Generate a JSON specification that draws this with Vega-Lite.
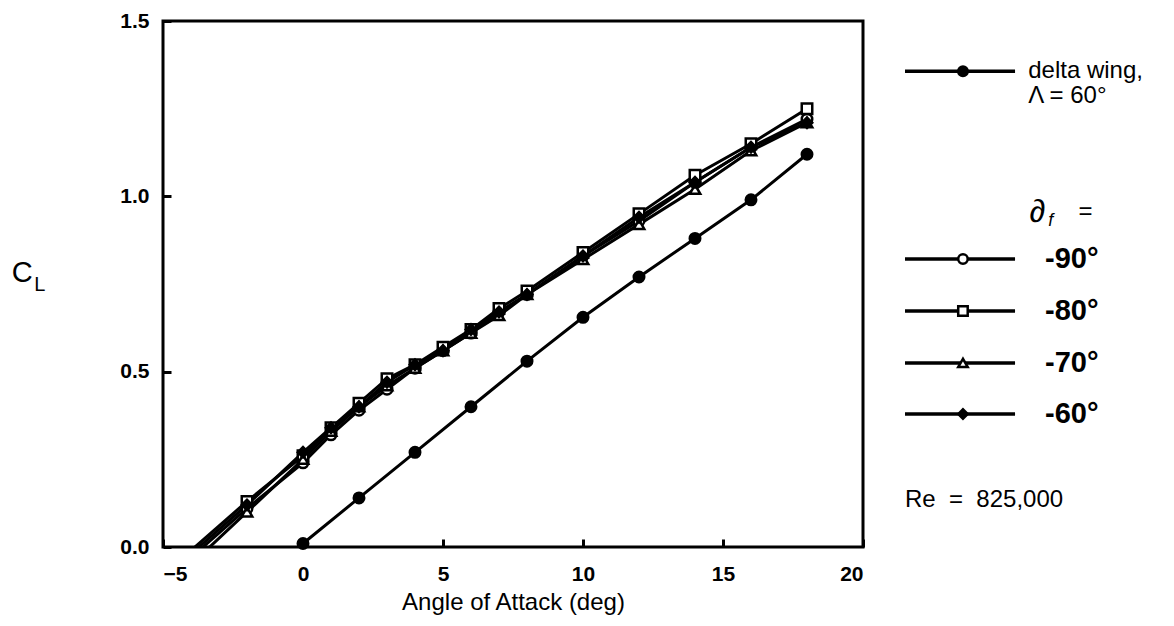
{
  "$schema": "https://vega.github.io/schema/vega-lite/v6.json",
  "autosize": {"type": "none"},
  "padding": {"left": 163, "top": 21, "right": 311, "bottom": 79},
  "width": 700,
  "height": 526,
  "background": "white",
  "config": {
    "view": {"stroke": "black", "strokeWidth": 3},
    "font": "Liberation Sans",
    "axis": {"domain": false, "grid": false, "tickColor": "black", "tickWidth": 3, "labelColor": "black", "titleColor": "black", "labelFont": "Liberation Sans", "titleFont": "Liberation Sans"}
  },
  "datasets": {
    "main": [
      {"series": "-90", "aoa": -4, "cl": -0.03}, {"series": "-90", "aoa": -2, "cl": 0.11}, {"series": "-90", "aoa": 0, "cl": 0.24}, {"series": "-90", "aoa": 1, "cl": 0.32}, {"series": "-90", "aoa": 2, "cl": 0.39}, {"series": "-90", "aoa": 3, "cl": 0.45}, {"series": "-90", "aoa": 4, "cl": 0.51}, {"series": "-90", "aoa": 5, "cl": 0.56}, {"series": "-90", "aoa": 6, "cl": 0.61}, {"series": "-90", "aoa": 7, "cl": 0.67}, {"series": "-90", "aoa": 8, "cl": 0.72}, {"series": "-90", "aoa": 10, "cl": 0.83}, {"series": "-90", "aoa": 12, "cl": 0.93}, {"series": "-90", "aoa": 14, "cl": 1.04}, {"series": "-90", "aoa": 16, "cl": 1.14}, {"series": "-90", "aoa": 18, "cl": 1.22},
      {"series": "-80", "aoa": -4, "cl": -0.01}, {"series": "-80", "aoa": -2, "cl": 0.13}, {"series": "-80", "aoa": 0, "cl": 0.26}, {"series": "-80", "aoa": 1, "cl": 0.34}, {"series": "-80", "aoa": 2, "cl": 0.41}, {"series": "-80", "aoa": 3, "cl": 0.48}, {"series": "-80", "aoa": 4, "cl": 0.52}, {"series": "-80", "aoa": 5, "cl": 0.57}, {"series": "-80", "aoa": 6, "cl": 0.62}, {"series": "-80", "aoa": 7, "cl": 0.68}, {"series": "-80", "aoa": 8, "cl": 0.73}, {"series": "-80", "aoa": 10, "cl": 0.84}, {"series": "-80", "aoa": 12, "cl": 0.95}, {"series": "-80", "aoa": 14, "cl": 1.06}, {"series": "-80", "aoa": 16, "cl": 1.15}, {"series": "-80", "aoa": 18, "cl": 1.25},
      {"series": "-70", "aoa": -4, "cl": -0.05}, {"series": "-70", "aoa": -2, "cl": 0.1}, {"series": "-70", "aoa": 0, "cl": 0.25}, {"series": "-70", "aoa": 1, "cl": 0.33}, {"series": "-70", "aoa": 2, "cl": 0.4}, {"series": "-70", "aoa": 3, "cl": 0.46}, {"series": "-70", "aoa": 4, "cl": 0.51}, {"series": "-70", "aoa": 5, "cl": 0.56}, {"series": "-70", "aoa": 6, "cl": 0.61}, {"series": "-70", "aoa": 7, "cl": 0.66}, {"series": "-70", "aoa": 8, "cl": 0.72}, {"series": "-70", "aoa": 10, "cl": 0.82}, {"series": "-70", "aoa": 12, "cl": 0.92}, {"series": "-70", "aoa": 14, "cl": 1.02}, {"series": "-70", "aoa": 16, "cl": 1.13}, {"series": "-70", "aoa": 18, "cl": 1.21},
      {"series": "-60", "aoa": -4, "cl": -0.02}, {"series": "-60", "aoa": -2, "cl": 0.12}, {"series": "-60", "aoa": 0, "cl": 0.27}, {"series": "-60", "aoa": 1, "cl": 0.34}, {"series": "-60", "aoa": 2, "cl": 0.4}, {"series": "-60", "aoa": 3, "cl": 0.47}, {"series": "-60", "aoa": 4, "cl": 0.52}, {"series": "-60", "aoa": 5, "cl": 0.56}, {"series": "-60", "aoa": 6, "cl": 0.62}, {"series": "-60", "aoa": 7, "cl": 0.67}, {"series": "-60", "aoa": 8, "cl": 0.72}, {"series": "-60", "aoa": 10, "cl": 0.83}, {"series": "-60", "aoa": 12, "cl": 0.94}, {"series": "-60", "aoa": 14, "cl": 1.04}, {"series": "-60", "aoa": 16, "cl": 1.14}, {"series": "-60", "aoa": 18, "cl": 1.21},
      {"series": "delta", "aoa": 0, "cl": 0.01}, {"series": "delta", "aoa": 2, "cl": 0.14}, {"series": "delta", "aoa": 4, "cl": 0.27}, {"series": "delta", "aoa": 6, "cl": 0.4}, {"series": "delta", "aoa": 8, "cl": 0.53}, {"series": "delta", "aoa": 10, "cl": 0.655}, {"series": "delta", "aoa": 12, "cl": 0.77}, {"series": "delta", "aoa": 14, "cl": 0.88}, {"series": "delta", "aoa": 16, "cl": 0.99}, {"series": "delta", "aoa": 18, "cl": 1.12}
    ],
    "legend": [
      {"series": "delta", "x1": 21.5, "x2": 25.43, "xm": 23.57, "y": 1.357},
      {"series": "-90", "x1": 21.5, "x2": 25.43, "xm": 23.57, "y": 0.821, "label": "-90°"},
      {"series": "-80", "x1": 21.5, "x2": 25.43, "xm": 23.57, "y": 0.673, "label": "-80°"},
      {"series": "-70", "x1": 21.5, "x2": 25.43, "xm": 23.57, "y": 0.525, "label": "-70°"},
      {"series": "-60", "x1": 21.5, "x2": 25.43, "xm": 23.57, "y": 0.379, "label": "-60°"}
    ],
    "notes": [
      {"text": "delta wing,", "x": 25.9, "y": 1.357, "size": 24},
      {"text": "Λ = 60°", "x": 25.9, "y": 1.286, "size": 24},
      {"text": "=", "x": 27.7, "y": 0.955, "size": 24},
      {"text": "Re\u00a0\u00a0=\u00a0\u00a0825,000", "x": 21.5, "y": 0.134, "size": 24}
    ]
  },
  "layer": [
    {
      "data": {"name": "main"},
      "mark": {"type": "line", "color": "black", "strokeWidth": 3, "clip": true},
      "encoding": {
        "x": {"field": "aoa", "type": "quantitative", "scale": {"domain": [-5, 20], "nice": false, "zero": false},
          "axis": {"values": [-5, 0, 5, 10, 15, 20], "tickSize": -8, "labelPadding": 24, "labelFontSize": 21, "labelFontWeight": "bold", "title": "Angle of Attack (deg)", "titleFontSize": 24, "titleFontWeight": "normal", "titlePadding": 6}},
        "y": {"field": "cl", "type": "quantitative", "scale": {"domain": [0, 1.5], "nice": false, "zero": false},
          "axis": {"values": [0, 0.5, 1, 1.5], "format": ".1f", "tickSize": -8, "labelPadding": 22, "labelFontSize": 21, "labelFontWeight": "bold", "title": null}},
        "detail": {"field": "series"}
      }
    },
    {
      "data": {"name": "main"},
      "transform": [{"filter": "datum.aoa >= -2"}],
      "mark": {"type": "point", "stroke": "black", "strokeWidth": 2.5, "opacity": 1, "size": 110, "filled": false},
      "encoding": {
        "x": {"field": "aoa", "type": "quantitative"},
        "y": {"field": "cl", "type": "quantitative"},
        "shape": {"field": "series", "type": "nominal", "legend": null, "scale": {"domain": ["-90", "-80", "-70", "-60", "delta"], "range": ["circle", "square", "triangle-up", "diamond", "circle"]}},
        "fill": {"field": "series", "type": "nominal", "legend": null, "scale": {"domain": ["-90", "-80", "-70", "-60", "delta"], "range": ["white", "white", "white", "black", "black"]}}
      }
    },
    {
      "data": {"name": "legend"},
      "mark": {"type": "rule", "color": "black", "strokeWidth": 3.5},
      "encoding": {
        "x": {"field": "x1", "type": "quantitative"},
        "x2": {"field": "x2"},
        "y": {"field": "y", "type": "quantitative"}
      }
    },
    {
      "data": {"name": "legend"},
      "mark": {"type": "point", "stroke": "black", "strokeWidth": 2.5, "opacity": 1, "size": 90, "filled": false},
      "encoding": {
        "x": {"field": "xm", "type": "quantitative"},
        "y": {"field": "y", "type": "quantitative"},
        "shape": {"field": "series", "type": "nominal", "legend": null},
        "fill": {"field": "series", "type": "nominal", "legend": null}
      }
    },
    {
      "data": {"name": "legend"},
      "transform": [{"filter": "datum.label != null"}],
      "mark": {"type": "text", "align": "left", "baseline": "middle", "fontSize": 29, "fontWeight": "bold", "dx": 30, "color": "black"},
      "encoding": {
        "x": {"field": "x2", "type": "quantitative"},
        "y": {"field": "y", "type": "quantitative"},
        "text": {"field": "label"}
      }
    },
    {
      "data": {"name": "notes"},
      "mark": {"type": "text", "align": "left", "baseline": "middle", "color": "black"},
      "encoding": {
        "x": {"field": "x", "type": "quantitative"},
        "y": {"field": "y", "type": "quantitative"},
        "text": {"field": "text"},
        "size": {"field": "size", "type": "quantitative", "scale": null}
      }
    },
    {
      "data": {"values": [{"t": "∂", "x": 25.95, "y": 0.955, "s": 32}, {"t": "f", "x": 26.62, "y": 0.93, "s": 18}]},
      "mark": {"type": "text", "align": "left", "baseline": "middle", "color": "black", "fontStyle": "italic"},
      "encoding": {
        "x": {"field": "x", "type": "quantitative"},
        "y": {"field": "y", "type": "quantitative"},
        "text": {"field": "t"},
        "size": {"field": "s", "type": "quantitative", "scale": null}
      }
    },
    {
      "data": {"values": [{"t": "C", "x": -10.4, "y": 0.781, "s": 29}, {"t": "L", "x": -9.6, "y": 0.748, "s": 20}]},
      "mark": {"type": "text", "align": "left", "baseline": "middle", "color": "black"},
      "encoding": {
        "x": {"field": "x", "type": "quantitative"},
        "y": {"field": "y", "type": "quantitative"},
        "text": {"field": "t"},
        "size": {"field": "s", "type": "quantitative", "scale": null}
      }
    }
  ]
}
